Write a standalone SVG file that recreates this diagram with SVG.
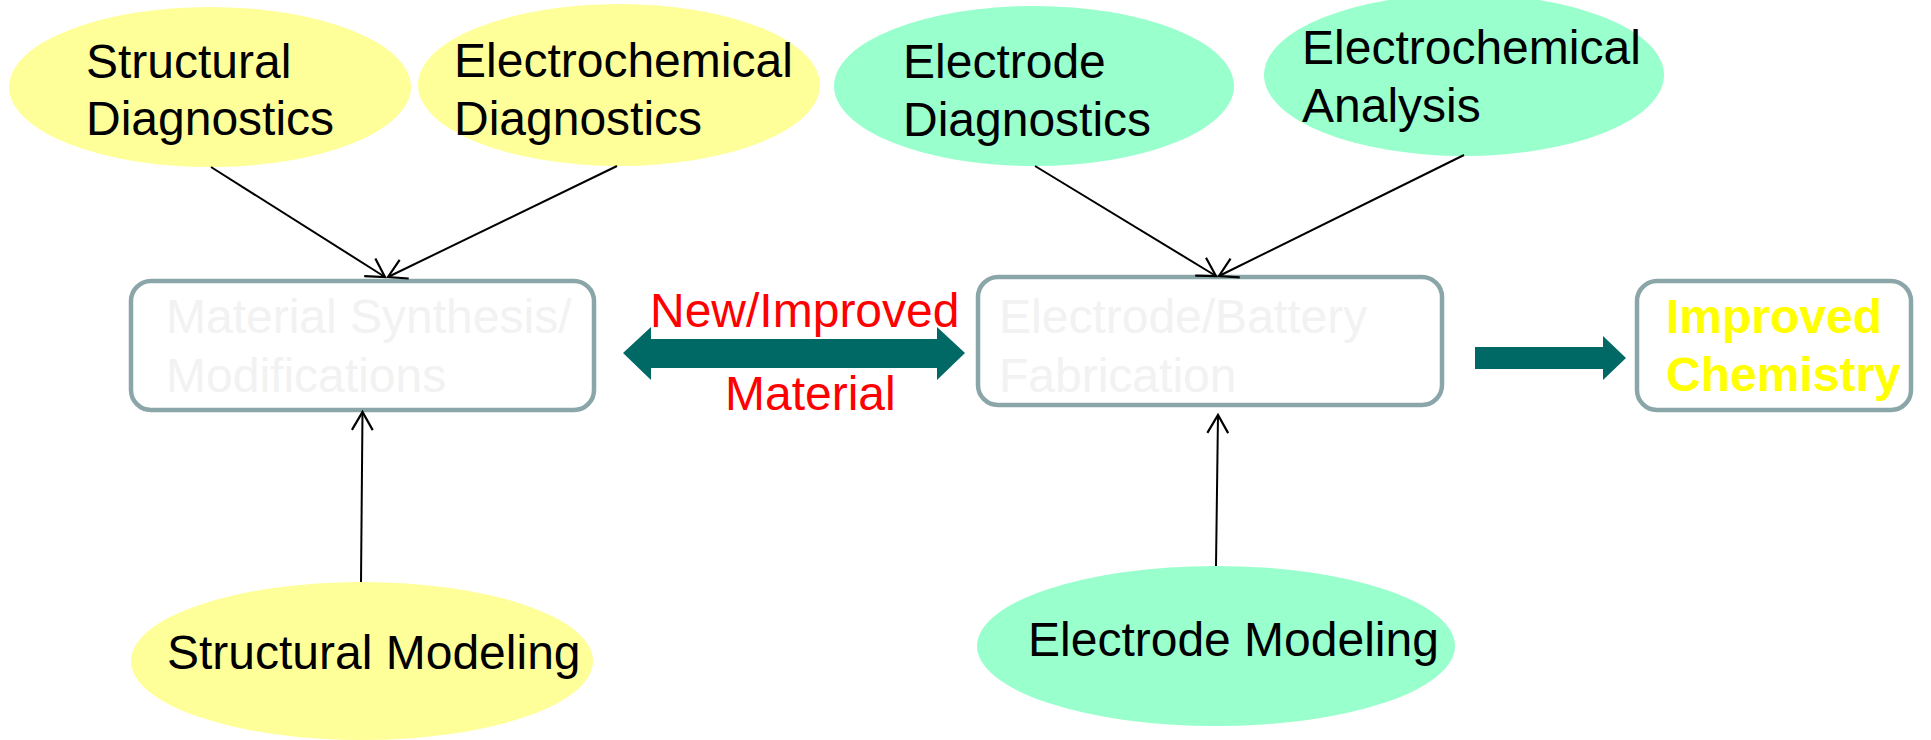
<svg xmlns="http://www.w3.org/2000/svg" width="1931" height="740" viewBox="0 0 1931 740">
<style>
.t{font-family:"Liberation Sans",Arial,sans-serif;font-size:48px;fill:#000}
.box{fill:#fff;stroke:#8ba6a8;stroke-width:4.5}
.faint{font-family:"Liberation Sans",Arial,sans-serif;font-size:48px;fill:#f2f2f2}
.y{fill:#ffff99}
.g{fill:#99ffcc}
.c{stroke:#000;stroke-width:2;fill:none;marker-end:url(#ah)}
.big{fill:#006966}
</style>
<defs>
<marker id="ah" markerUnits="userSpaceOnUse" viewBox="-25 -15 30 30" markerWidth="30" markerHeight="30" refX="0" refY="0" orient="auto" overflow="visible">
<path d="M-18,-10.4 L0,0 L-18,10.4" fill="none" stroke="#000" stroke-width="2.2"/>
</marker>
</defs>
<rect width="1931" height="740" fill="#fff"/>
<g id="structural-diagnostics">
<ellipse class="y" cx="210" cy="87" rx="201" ry="80"/>
<text class="t" x="86" y="78">Structural</text>
<text class="t" x="86" y="135">Diagnostics</text>
</g>
<g id="electrochemical-diagnostics">
<ellipse class="y" cx="619" cy="85" rx="201" ry="81"/>
<text class="t" x="454" y="77">Electrochemical</text>
<text class="t" x="454" y="135">Diagnostics</text>
</g>
<g id="electrode-diagnostics">
<ellipse class="g" cx="1034" cy="86" rx="200" ry="80"/>
<text class="t" x="903" y="78">Electrode</text>
<text class="t" x="903" y="136">Diagnostics</text>
</g>
<g id="electrochemical-analysis">
<ellipse class="g" cx="1464" cy="75" rx="200" ry="81"/>
<text class="t" x="1302" y="64">Electrochemical</text>
<text class="t" x="1302" y="122">Analysis</text>
</g>
<g id="structural-modeling">
<ellipse class="y" cx="362" cy="661" rx="231" ry="79"/>
<text class="t" x="167" y="669">Structural Modeling</text>
</g>
<g id="electrode-modeling">
<ellipse class="g" cx="1216" cy="646" rx="239" ry="80"/>
<text class="t" x="1028" y="656">Electrode Modeling</text>
</g>
<g id="material-synthesis">
<rect class="box" x="131" y="281" width="463" height="129" rx="20"/>
<text class="faint" x="166" y="333">Material Synthesis/</text>
<text class="faint" x="166" y="392">Modifications</text>
</g>
<g id="electrode-fabrication">
<rect class="box" x="978" y="277" width="464" height="128" rx="20"/>
<text class="faint" x="999" y="333">Electrode/Battery</text>
<text class="faint" x="999" y="392">Fabrication</text>
</g>
<g id="improved-chemistry">
<rect class="box" x="1637" y="281" width="274" height="129" rx="20"/>
<text class="t" x="1666" y="333" style="font-weight:bold;fill:#ffff00">Improved</text>
<text class="t" x="1666" y="391" style="font-weight:bold;fill:#ffff00">Chemistry</text>
</g>
<g id="connectors">
<line class="c" x1="211" y1="167" x2="385" y2="277"/>
<line class="c" x1="617" y1="166" x2="388" y2="277"/>
<line class="c" x1="1035" y1="166" x2="1216" y2="276"/>
<line class="c" x1="1464" y1="155" x2="1219" y2="276"/>
<line class="c" x1="361" y1="582" x2="362.5" y2="412"/>
<line class="c" x1="1216" y1="566" x2="1218" y2="415"/>
<polygon class="big" points="623,353 651,327 651,339 937,339 937,327 965,353 937,380 937,368 651,368 651,380"/>
<polygon class="big" points="1475,347 1603,347 1603,336 1626,358 1603,380 1603,369 1475,369"/>
<text x="650" y="327" style="font-family:'Liberation Sans',Arial,sans-serif;font-size:48px;fill:#ff0000">New/Improved</text>
<text x="725" y="410" style="font-family:'Liberation Sans',Arial,sans-serif;font-size:48px;fill:#ff0000">Material</text>
</g>
</svg>
